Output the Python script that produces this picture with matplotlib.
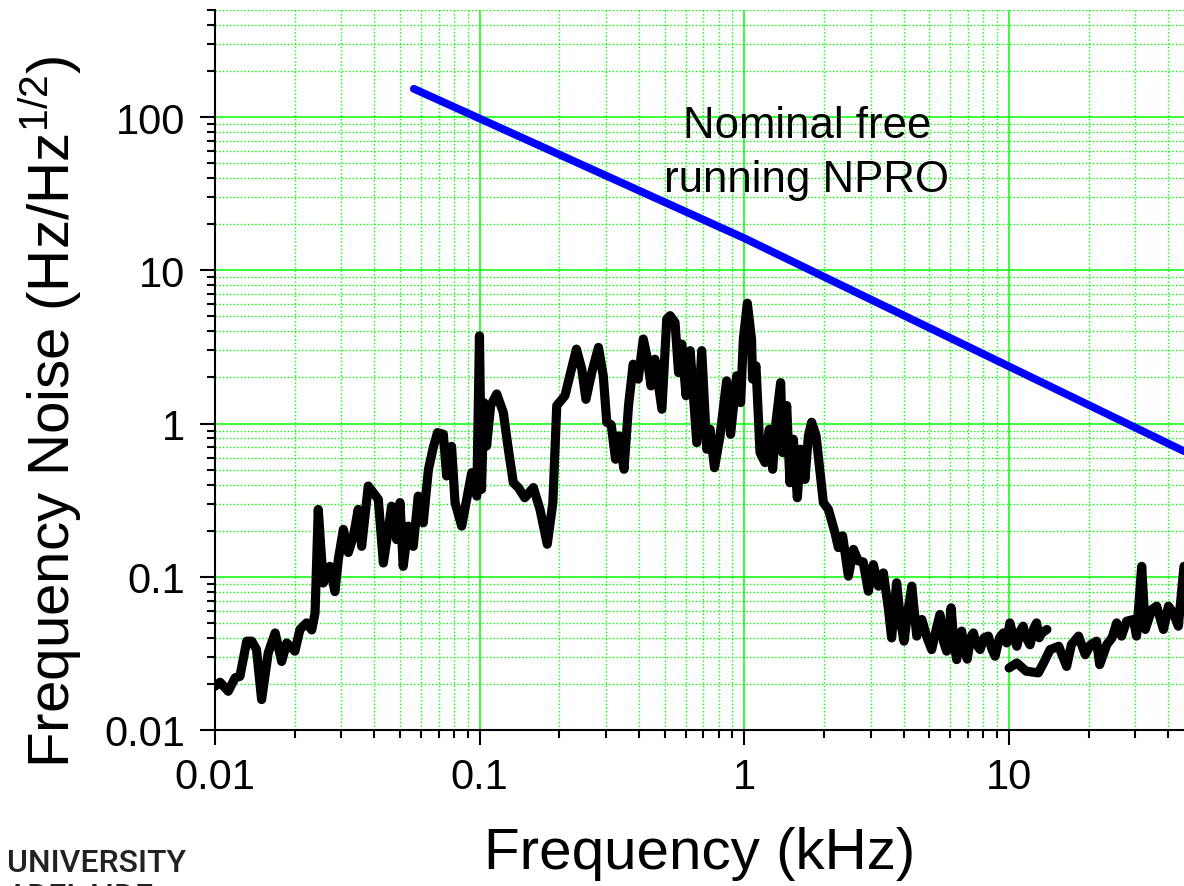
import matplotlib
matplotlib.use('Agg')
import matplotlib.pyplot as plt
from matplotlib.ticker import LogLocator, NullFormatter

plt.rcParams['font.family'] = ['Liberation Sans', 'DejaVu Sans']
plt.rcParams['mathtext.fontset'] = 'custom'
plt.rcParams['mathtext.rm'] = 'Liberation Sans'
plt.rcParams['mathtext.default'] = 'regular'

# measured frequency noise, first sweep (kHz, Hz/Hz^1/2)
f1 = [0.0100, 0.01045, 0.01122, 0.01191, 0.01242, 0.01318, 0.01377, 0.01435,
      0.0150, 0.01589, 0.01687, 0.01786, 0.01866, 0.02004, 0.02094, 0.02218,
      0.0232, 0.02388, 0.02455, 0.02564, 0.02716, 0.02838, 0.02924, 0.03055,
      0.0319, 0.03334, 0.03475, 0.03581, 0.03793, 0.03963, 0.0414, 0.04325,
      0.04519, 0.04645, 0.04853, 0.0500, 0.0514, 0.0537, 0.0561, 0.0586,
      0.0612, 0.0640, 0.0668, 0.0693, 0.0729, 0.0750, 0.0783, 0.0807,
      0.0855, 0.0893, 0.0933, 0.0955, 0.0975, 0.0998, 0.1016, 0.1037,
      0.1062, 0.110, 0.116, 0.1228, 0.1283, 0.134, 0.140, 0.148,
      0.1595, 0.169, 0.180, 0.189, 0.1955, 0.210, 0.219, 0.232,
      0.243, 0.252, 0.265, 0.281, 0.293, 0.302, 0.314, 0.326,
      0.336, 0.351, 0.365, 0.380, 0.397, 0.415, 0.428, 0.444,
      0.459, 0.488, 0.509, 0.524, 0.547, 0.564, 0.580, 0.602,
      0.624, 0.661, 0.690, 0.721, 0.742, 0.771, 0.809, 0.857,
      0.887, 0.935, 0.968, 0.991, 1.026, 1.064, 1.074, 1.106,
      1.146, 1.197, 1.242, 1.279, 1.316, 1.371, 1.396, 1.445,
      1.486, 1.531, 1.585, 1.633, 1.694, 1.745, 1.795, 1.866,
      1.988, 2.077, 2.199, 2.265, 2.350, 2.472, 2.582, 2.692,
      2.81, 2.94, 3.07, 3.21, 3.35, 3.50, 3.60, 3.76, 3.90, 4.01,
      4.15, 4.29, 4.48, 4.68, 4.90, 5.10, 5.30, 5.48, 5.65, 5.81,
      6.04, 6.20, 6.34, 6.50, 6.62, 6.80, 6.95, 7.15, 7.33, 7.55,
      7.77, 8.05, 8.35, 8.60, 8.85, 9.20, 9.51, 9.80, 10.07, 10.4,
      10.7, 11.0, 11.3, 11.6, 12.0, 12.4, 12.7, 13.0, 13.3, 13.9]
n1 = [0.0193, 0.0205, 0.0179, 0.0219, 0.0224, 0.038, 0.038, 0.0335,
      0.0158, 0.0319, 0.043, 0.028, 0.037, 0.0327, 0.0453, 0.050,
      0.045, 0.058, 0.275, 0.091, 0.117, 0.080, 0.130, 0.204,
      0.144, 0.184, 0.275, 0.158, 0.391, 0.354, 0.32, 0.123,
      0.204, 0.289, 0.175, 0.305, 0.117, 0.214, 0.158, 0.336,
      0.225, 0.50, 0.70, 0.873, 0.851, 0.455, 0.71, 0.305,
      0.214, 0.32, 0.478, 0.40, 0.336, 3.74, 0.372, 1.37,
      0.714, 1.31, 1.56, 1.18, 0.68, 0.411, 0.382, 0.328,
      0.382, 0.275, 0.163, 0.305, 1.31, 1.52, 2.05, 3.06,
      2.27, 1.44, 2.15, 3.14, 2.05, 1.02, 0.98, 0.585,
      0.83, 0.503, 1.31, 2.44, 1.95, 3.56, 2.77, 1.76,
      2.63, 1.24, 4.81, 5.06, 4.57, 2.15, 3.30, 1.52,
      2.99, 0.75, 2.99, 0.68, 0.918, 0.515, 0.83, 1.90,
      0.851, 2.05, 1.37, 3.56, 6.1, 3.56, 1.95, 2.38,
      0.646, 0.556, 0.918, 0.503, 1.02, 1.85, 0.646, 1.31,
      0.411, 0.79, 0.328, 0.68, 0.432, 0.83, 1.02, 0.83,
      0.305, 0.275, 0.194, 0.155, 0.185, 0.101, 0.151, 0.127,
      0.125, 0.0805, 0.120, 0.0869, 0.106, 0.062, 0.0399, 0.0914, 0.050, 0.038,
      0.060, 0.0869, 0.041, 0.0526, 0.040, 0.0335, 0.045, 0.0568, 0.038, 0.0327,
      0.0627, 0.036, 0.0288, 0.040, 0.0442, 0.033, 0.029, 0.040, 0.043, 0.036,
      0.0335, 0.040, 0.041, 0.034, 0.0303, 0.040, 0.043, 0.037, 0.050, 0.040,
      0.0352, 0.044, 0.0476, 0.040, 0.036, 0.046, 0.050, 0.040, 0.043, 0.0453]

# second sweep, high frequency part
f2 = [10.0, 10.7, 11.6, 12.9, 13.5, 14.3, 15.4, 16.5, 17.2, 18.3,
      19.4, 20.3, 21.4, 22.0, 23.4, 24.5, 25.5, 26.6, 27.8, 29.5,
      30.3, 31.7, 32.7, 34.6, 36.1, 38.3, 40.0, 41.7, 43.6, 45.8]
n2 = [0.0254, 0.0274, 0.0242, 0.0236, 0.0274, 0.0335, 0.0352, 0.026, 0.0361, 0.041,
      0.031, 0.036, 0.038, 0.0267, 0.0361, 0.040, 0.050, 0.041, 0.0513, 0.0526,
      0.041, 0.117, 0.0453, 0.0611, 0.0643, 0.0453, 0.0643, 0.0582, 0.0476, 0.117]

# nominal free running NPRO
f_npro = [0.0564, 1.0, 45.8]
n_npro = [153, 16.2, 0.66]

yticks = [0.01, 0.1, 1, 10, 100]
ytick_labels = ['0.01', '0.1', '1', '10', '100']
xticks = [0.01, 0.1, 1, 10]
xtick_labels = ['0.01', '0.1', '1', '10']

fig = plt.figure(figsize=(11.84, 8.87), dpi=100)
ax = fig.add_axes([215/1184, 1 - 731/887, 969/1184, 720/887])

ax.plot(f_npro, n_npro, color='#0000ff', lw=5.6, solid_capstyle='round', zorder=3)
ax.plot(f1, n1, color='black', lw=6.6, solid_joinstyle='round', solid_capstyle='round', zorder=4)
ax.plot(f2, n2, color='black', lw=6.6, solid_joinstyle='round', solid_capstyle='round', zorder=4)

ax.set_xscale('log')
ax.set_yscale('log')
ax.set_xlim(0.01, 45.8)
ax.set_ylim(0.01, 500)

ax.set_xticks(xticks, labels=xtick_labels)
ax.set_yticks(yticks, labels=ytick_labels)
ax.xaxis.set_minor_locator(LogLocator(base=10, subs=range(2, 10), numticks=20))
ax.yaxis.set_minor_locator(LogLocator(base=10, subs=range(2, 10), numticks=20))
ax.xaxis.set_minor_formatter(NullFormatter())
ax.yaxis.set_minor_formatter(NullFormatter())

ax.set_axisbelow(True)
ax.grid(which='major', color='#00ff00', lw=1.1, ls='-')
ax.grid(which='minor', color='#00ff00', lw=1.0, ls=(0, (1, 1.6)))

for s in ['top', 'right']:
    ax.spines[s].set_visible(False)
for s in ['left', 'bottom']:
    ax.spines[s].set_linewidth(1.5)

ax.tick_params(which='major', direction='out', length=10.5, width=1.5, labelsize=30)
ax.tick_params(axis='y', which='major', pad=11)
ax.tick_params(axis='x', which='major', pad=9)
ax.tick_params(which='minor', direction='out', length=5.5, width=1.5)

ax.set_xlabel('Frequency (kHz)', fontsize=42)
ax.set_ylabel('Frequency Noise (Hz/Hz$^{1/2}$)', fontsize=42)
ax.xaxis.set_label_coords(0.5, -0.133)
ax.yaxis.set_label_coords(-0.135, 0.443)

ax.text(1.72, 59, 'Nominal free\nrunning NPRO', fontsize=31.5, ha='center', va='center',
        linespacing=1.4, zorder=5)

fig.text(7/1184, 1 - 872/887, 'UNIVERSITY', fontsize=23, color='#222222',
         family=['Roboto', 'Liberation Sans'], weight='medium', va='baseline')
fig.text(7/1184, 1 - 906/887, 'ADELAIDE', fontsize=23, color='#222222',
         family=['Roboto', 'Liberation Sans'], weight='medium', va='baseline')

fig.savefig('out.png', dpi=100)
